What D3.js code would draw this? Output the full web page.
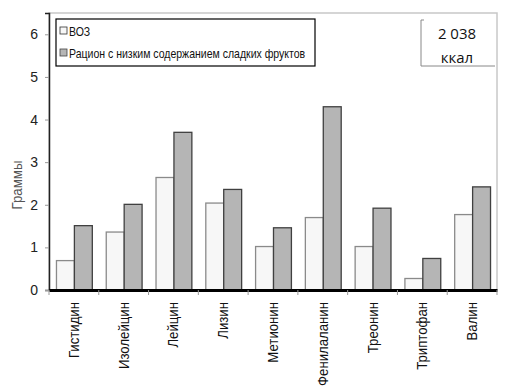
<!DOCTYPE html>
<html><head><meta charset="utf-8">
<script src="https://cdn.jsdelivr.net/npm/d3@7"></script>
<style>body{margin:0;background:#fff}svg{display:block}</style>
</head><body>
<svg id="c" width="530" height="390"></svg>
<script>
const categories = ["Гистидин","Изолейцин","Лейцин","Лизин","Метионин","Фенилаланин","Треонин","Триптофан","Валин"];
const seriesNames = ["ВОЗ","Рацион с низким содержанием сладких фруктов"];
const who = [0.69,1.36,2.64,2.04,1.02,1.70,1.02,0.27,1.77];
const diet = [1.51,2.01,3.70,2.36,1.46,4.30,1.92,0.74,2.42];
const yTicks = [0,1,2,3,4,5,6];
const boxLines = ["2 038","ккал"];
const yLabel = "Граммы";

const svg = d3.select("#c");
const L=49, R=497, T=13, B=290;
const x = d3.scaleBand().domain(categories).range([L,R]).paddingInner(0.28).paddingOuter(0.14);
const x1 = d3.scaleBand().domain([0,1]).range([0,x.bandwidth()]);
const y = d3.scaleLinear().domain([0,6.5]).range([B,T]);
const font = "'Liberation Sans',Arial,sans-serif";

// frame
svg.append("rect").attr("x",L).attr("y",T).attr("width",R-L).attr("height",B-T)
  .attr("fill","none").attr("stroke","#c8c8c8").attr("stroke-width",1.5);

const colors = [{fill:"#f7f7f7",stroke:"#8a8a8a"},{fill:"#b5b5b5",stroke:"#404040"}];
[who,diet].forEach((vals,si)=>{
  svg.append("g").selectAll("rect").data(vals).join("rect")
    .attr("x",(d,i)=>x(categories[i])+x1(si)+0.5)
    .attr("y",d=>y(d))
    .attr("width",x1.bandwidth())
    .attr("height",d=>B-y(d))
    .attr("fill",colors[si].fill).attr("stroke",colors[si].stroke).attr("stroke-width",1.3);
});

// y axis
const ya = svg.append("g").attr("transform",`translate(${L},0)`)
  .call(d3.axisLeft(y).tickValues(yTicks).tickSize(4).tickPadding(7).tickFormat(d3.format("d")));
ya.select(".domain").attr("stroke","#222").attr("stroke-width",1.5);
ya.selectAll(".tick line").attr("stroke","#999");
ya.selectAll("text").attr("font-family",font).attr("font-size",14).attr("fill","#222");

// x axis
const xa = svg.append("g").attr("transform",`translate(0,${B})`)
  .call(d3.axisBottom(x).tickSize(0).tickFormat(""));
xa.select(".domain").attr("stroke","#000").attr("stroke-width",3);
const bounds = categories.map(c=>x(c)-x.step()*x.paddingInner()/2).concat([R]);
svg.append("g").selectAll("line").data(bounds).join("line")
  .attr("x1",d=>d).attr("x2",d=>d).attr("y1",B).attr("y2",B+5).attr("stroke","#999");

svg.append("g").selectAll("text").data(categories).join("text")
  .attr("transform",d=>`translate(${x(d)+x.bandwidth()/2+5},302) rotate(-90) scale(0.88,1)`)
  .attr("text-anchor","end").attr("font-family",font).attr("font-size",15).attr("fill","#111")
  .text(d=>d);

// y label
svg.append("text").attr("transform","translate(22,185) rotate(-90) scale(0.95,1)").attr("text-anchor","middle")
  .attr("font-family",font).attr("font-size",14).attr("fill","#555").text(yLabel);

// legend
const lg = svg.append("g");
lg.append("rect").attr("x",56).attr("y",19).attr("width",259).attr("height",47)
  .attr("fill","#fff").attr("stroke","#000").attr("stroke-width",1.2);
seriesNames.forEach((n,i)=>{
  const yy = 31 + i*22;
  lg.append("rect").attr("x",60).attr("y",yy-4).attr("width",7).attr("height",7)
    .attr("fill",colors[i].fill).attr("stroke",i? "#444":"#333").attr("stroke-width",0.8);
  lg.append("text").attr("transform",`translate(69,${yy+4.5}) scale(0.81,1)`)
    .attr("font-family",font).attr("font-size",13).attr("fill","#111").text(n);
});

// kcal box
const kb = svg.append("g");
kb.append("path").attr("d","M421,20 L421,66 L495,66").attr("fill","none").attr("stroke","#888");
kb.append("path").attr("d","M421,20 L424,20").attr("fill","none").attr("stroke","#888");
boxLines.forEach((t,i)=>{
  kb.append("text").attr("x",457).attr("y",39+i*24).attr("text-anchor","middle")
    .attr("font-family","'Open Sans','DejaVu Sans',sans-serif").attr("font-size",15).attr("fill","#111").text(t);
});
</script>
</body></html>
